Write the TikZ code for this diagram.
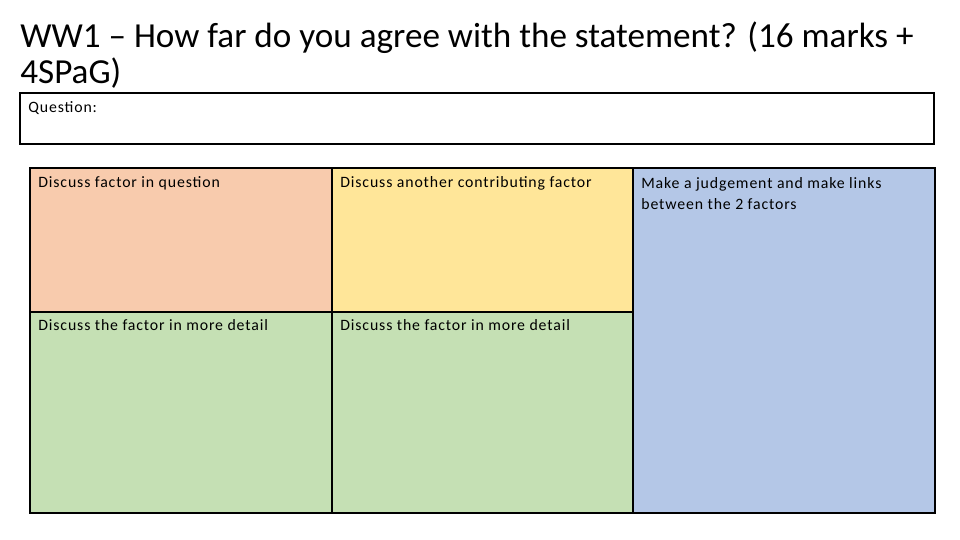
\documentclass[tikz,border=0pt]{standalone}
\usepackage{fontspec}
\setmainfont{Carlito}
\newfontfamily\cellfont[LetterSpace=5.5]{Carlito}
\definecolor{cellsalmon}{HTML}{F8CBAD}
\definecolor{cellyellow}{HTML}{FFE699}
\definecolor{cellgreen}{HTML}{C5E0B4}
\definecolor{cellblue}{HTML}{B4C7E7}
\tikzset{
	celltext/.style={anchor=base west,inner sep=0pt,font=\cellfont\fontsize{9}{12.5}\selectfont,align=left},
	cellline/.style={draw=black,line width=1.1pt}
}
\begin{document}
\begin{tikzpicture}[x=0.02cm,y=-0.02cm]
%%% page size
\useasboundingbox (0,0) rectangle (960,540);
%%% Title (base anchor sits on the last line)
\node[anchor=base west,inner sep=0pt,align=left,font=\fontsize{20}{21}\selectfont] (title) at (20,84)
	{WW1 -- How far do you agree with the statement? (16 marks +\\4SPaG)};
%%% Question box
\draw[line width=0.6pt] (20,93) rectangle (934,144);
\node[celltext] (question) at (28,113) {Question:};
%%% Coloured cells
\draw[cellline,fill=cellsalmon] (30,168) rectangle (332,312);
\draw[cellline,fill=cellyellow] (332,168) rectangle (633,312);
\foreach \i in {1,...,2}
{
	\pgfmathtruncatemacro{\x}{(\i - 1)};
	\draw[cellline,fill=cellgreen] (30+302*\x,312) rectangle (332+301*\x,513);
}
\draw[cellline,fill=cellblue] (633,168) rectangle (935,513);
%%% Cell labels
\node[celltext] (factor) at (38,188) {Discuss factor in question};
\node[celltext] (another) at (340,188) {Discuss another contributing factor};
\node[celltext] (detaila) at (38,331) {Discuss the factor in more detail};
\node[celltext] (detailb) at (340,331) {Discuss the factor in more detail};
\node[celltext] (judge) at (641,210) {Make a judgement and make links\\between the 2 factors};
\end{tikzpicture}
\end{document}
